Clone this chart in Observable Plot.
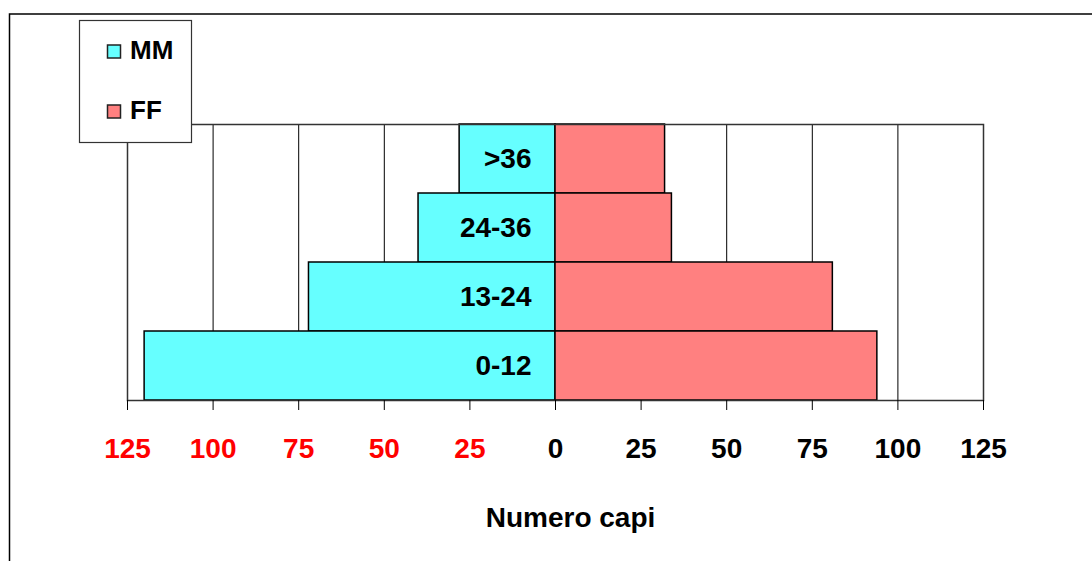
<!DOCTYPE html>
<html><head><meta charset="utf-8">
<script src="https://cdn.jsdelivr.net/npm/d3@7"></script>
<script src="https://cdn.jsdelivr.net/npm/@observablehq/plot@0.6"></script>
<style>body{margin:0;background:#fff;overflow:hidden} svg{display:block}</style>
</head><body><div id="chart"></div>
<script>
const ageClasses = [">36", "24-36", "13-24", "0-12"];
const maschi = [28, 40, 72, 120];
const femmine = [32, 34, 81, 94];
const tickValues = [-125, -100, -75, -50, -25, 0, 25, 50, 75, 100, 125];
const seriesNames = ["MM", "FF"];
const seriesColors = ["#66FFFF", "#FF8080"];
const xTitle = "Numero capi";

const rows = ageClasses.flatMap((c, i) => [
  {classe: c, sesso: seriesNames[0], v: -maschi[i]},
  {classe: c, sesso: seriesNames[1], v: femmine[i]}
]);
const negTicks = tickValues.filter(d => d < 0);
const posTicks = tickValues.filter(d => d >= 0);

const chart = Plot.plot({
  width: 1092, height: 561,
  marginLeft: 127, marginRight: 109, marginTop: 124, marginBottom: 161,
  style: {fontFamily: "'Liberation Sans', Arial, sans-serif", fontWeight: "bold", fontSize: "28px", background: "white", color: "black"},
  x: {domain: [-125, 125]},
  y: {domain: ageClasses, padding: 0, axis: null},
  color: {domain: seriesNames, range: seriesColors},
  marks: [
    Plot.gridX(tickValues, {stroke: "black", strokeOpacity: 1, strokeWidth: 1}),
    Plot.barX(rows, {x: "v", y: "classe", fill: "sesso", stroke: "black", strokeWidth: 1.5}),
    Plot.text(ageClasses, {x: () => 0, y: d => d, text: d => d, textAnchor: "end", dx: -24, fontSize: 28, fontWeight: "bold", fill: "black"}),
    Plot.frame({stroke: "#333", strokeWidth: 1.5}),
    Plot.axisX(negTicks, {tickFormat: d => Math.abs(d), fill: "red", stroke: "black", tickSize: 10, tickPadding: 28, label: null, fontSize: 28, fontWeight: "bold"}),
    Plot.axisX(posTicks, {tickFormat: d => Math.abs(d), fill: "black", stroke: "black", tickSize: 10, tickPadding: 28, label: null, fontSize: 28, fontWeight: "bold"}),
    Plot.text([xTitle], {frameAnchor: "bottom", lineAnchor: "middle", text: d => d, dy: 118, dx: 15, fontSize: 28, fontWeight: "bold", fill: "black"})
  ]
});
document.getElementById("chart").appendChild(chart);

// outer chart border and legend
const svg = d3.select(chart);
svg.append("rect").attr("x", 9.5).attr("y", 14).attr("width", 1200).attr("height", 700)
  .attr("fill", "none").attr("stroke", "black").attr("stroke-width", 1.5);
const lg = svg.append("g").attr("text-anchor", "start");
lg.append("rect").attr("x", 79.5).attr("y", 20.5).attr("width", 112).attr("height", 122)
  .attr("fill", "white").attr("stroke", "#333").attr("stroke-width", 1.2);
seriesNames.forEach((name, i) => {
  const y0 = 45 + i * 60;
  lg.append("rect").attr("x", 107.5).attr("y", y0).attr("width", 13).attr("height", 13)
    .attr("fill", seriesColors[i]).attr("stroke", "#222").attr("stroke-width", 1.5);
  lg.append("text").attr("x", 130).attr("y", y0 + 14).text(name)
    .attr("text-anchor", "start")
    .attr("font-size", 26).attr("font-weight", "bold").attr("fill", "black")
    .attr("font-family", "'Liberation Sans', Arial, sans-serif");
});
</script>
</body></html>
